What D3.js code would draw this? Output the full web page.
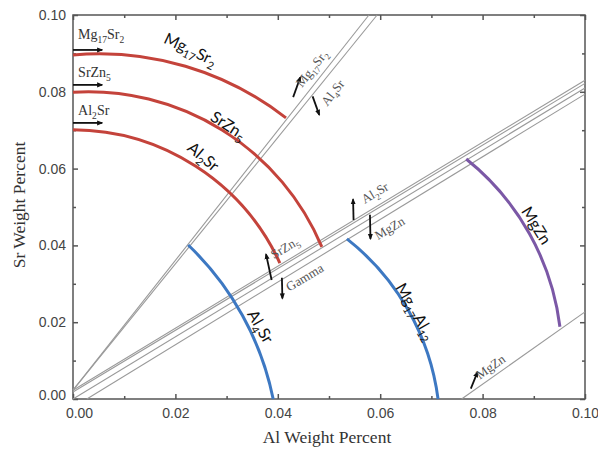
<!DOCTYPE html>
<meta charset="utf-8">
<style>
body { margin: 0; background: #fff; }
.bound line { stroke: #9a9a9a; stroke-width: 1.1px; }
.arc { fill: none; stroke-width: 3px; }
.axis path, .axis line { stroke: #555; stroke-width: 1.5px; }
.axis text { font-family: "Liberation Sans", Arial, sans-serif; font-size: 14px; fill: #444; }
.big { font-family: Lato, sans-serif; font-size: 16px; fill: #111; }
.small { font-family: "Liberation Serif", serif; font-size: 13px; fill: #555; }
.corner { font-family: "Liberation Serif", serif; font-size: 14px; fill: #333; }
.title { font-family: "Liberation Serif", serif; font-size: 17.5px; fill: #333; }
.arrow { stroke: #111; stroke-width: 1.8px; }
</style>
<svg width="598" height="451"></svg>
<script src="https://cdn.jsdelivr.net/npm/d3@7"></script>
<script>

// tick values (weight fraction)
var xMajor = [0, 0.02, 0.04, 0.06, 0.08, 0.10];
var xMinor = [0.01, 0.03, 0.05, 0.07, 0.09];
var yMajor = [0, 0.02, 0.04, 0.06, 0.08, 0.10];
var yMinor = [0.01, 0.03, 0.05, 0.07, 0.09];

// phase boundaries (gray lines), [[x1,y1],[x2,y2]]
var steepLines = [
    [[0, 0.0023], [0.0578, 0.1]],
    [[0, 0.0023], [0.0594, 0.1]]
];
var bundleLines = [
    [[0, 0.0023], [0.1, 0.0830]],
    [[0, 0.0018], [0.1, 0.0822]],
    [[0, 0], [0.1, 0.0810]],
    [[0.0027, 0], [0.1, 0.0794]]
];
var mgznLine = [[0.0759, 0], [0.1, 0.0227]];

// solubility arcs: start, a point on the way, end
var arcMg17Sr2 = [[0, 0.0896], [0.0332, 0.0805], [0.0416, 0.0732]];
var arcSrZn5 = [[0, 0.0799], [0.0346, 0.0648], [0.0486, 0.0396]];
var arcAl2Sr = [[0, 0.0701], [0.0320, 0.0518], [0.0404, 0.0354]];
var arcAl4Sr = [[0.0225, 0.0401], [0.0313, 0.0258], [0.0391, 0]];
var arcMg17Al12 = [[0.0535, 0.0417], [0.0639, 0.0266], [0.0713, 0]];
var arcMgZn = [[0.0768, 0.0625], [0.0893, 0.0427], [0.0951, 0.0188]];

// big labels on the arcs ("_" marks subscript)
var arcLabels = [
    {text: "Mg_17Sr_2", at: [0.0229, 0.0909], angle: 25},
    {text: "SrZn_5", at: [0.0303, 0.0711], angle: 33},
    {text: "Al_2Sr", at: [0.0254, 0.0630], angle: 40},
    {text: "Al_4Sr", at: [0.0365, 0.0188], angle: 60},
    {text: "Mg_17Al_12", at: [0.0668, 0.0227], angle: 60},
    {text: "MgZn", at: [0.0904, 0.0451], angle: 58}
];

// phase names on the gray boundaries, with their arrows
var boundLabels = [
    {text: "Mg_17Sr_2", at: [0.0467, 0.0860], angle: -52, tail: [0.0430, 0.0786], head: [0.0444, 0.0838]},
    {text: "Al_4Sr", at: [0.0508, 0.0797], angle: -52, tail: [0.0468, 0.0788], head: [0.0481, 0.0740]},
    {text: "Al_2Sr", at: [0.0590, 0.0536], angle: -31, tail: [0.0548, 0.0466], head: [0.0547, 0.0520]},
    {text: "MgZn", at: [0.0619, 0.0444], angle: -31, tail: [0.0580, 0.0480], head: [0.0581, 0.0417]},
    {text: "SrZn_5", at: [0.0414, 0.0393], angle: -31, tail: [0.0388, 0.0310], head: [0.0377, 0.0377]},
    {text: "Gamma", at: [0.0453, 0.0316], angle: -31, tail: [0.0408, 0.0316], head: [0.0409, 0.0262]},
    {text: "MgZn", at: [0.0816, 0.0083], angle: -35, tail: [0.0777, 0.0027], head: [0.0790, 0.0070]}
];

// solubility limits marked on the Sr axis
var cornerLabels = [
    {text: "Mg_17Sr_2", y: 0.0938, arrowY: 0.0909},
    {text: "SrZn_5", y: 0.0839, arrowY: 0.0818},
    {text: "Al_2Sr", y: 0.0740, arrowY: 0.0719}
];

var svg = d3.select("svg");
var x = d3.scaleLinear().domain([0, 0.1]).range([73, 585]);
var y = d3.scaleLinear().domain([0, 0.1]).range([399, 15]);

svg.append("defs").append("marker")
    .attr("id", "arr")
    .attr("viewBox", "0 0 10 10")
    .attr("refX", 8).attr("refY", 5)
    .attr("markerWidth", 3.5).attr("markerHeight", 3.5)
    .attr("orient", "auto")
    .append("path").attr("d", "M0,1L10,5L0,9z").attr("fill", "#111");

// writes "Mg_17Sr_2" style text into a text element
function richText(t, str, size) {
    var parts = str.split(/(_\d+)/).filter(function(s) { return s.length; });
    var down = false;
    parts.forEach(function(p) {
        var sp = t.append("tspan");
        if (p[0] == "_") {
            sp.text(p.slice(1)).attr("font-size", size * 0.68).attr("dy", size * 0.28);
            down = true;
        } else {
            sp.text(p);
            if (down) { sp.attr("dy", -size * 0.28); down = false; }
        }
    });
}

// circle through start / middle / end, in screen space
function arcPath(pts) {
    var p = pts.map(function(d) { return [x(d[0]), y(d[1])]; });
    var ax = p[0][0], ay = p[0][1], bx = p[1][0], by = p[1][1], cx = p[2][0], cy = p[2][1];
    var dd = 2 * (ax * (by - cy) + bx * (cy - ay) + cx * (ay - by));
    var ux = ((ax*ax + ay*ay) * (by - cy) + (bx*bx + by*by) * (cy - ay) + (cx*cx + cy*cy) * (ay - by)) / dd;
    var uy = ((ax*ax + ay*ay) * (cx - bx) + (bx*bx + by*by) * (ax - cx) + (cx*cx + cy*cy) * (bx - ax)) / dd;
    var r = Math.hypot(ax - ux, ay - uy);
    var cross = (bx - ax) * (cy - by) - (by - ay) * (cx - bx);
    var path = d3.path();
    path.moveTo(ax, ay);
    path.arc(ux, uy, r, Math.atan2(ay - uy, ax - ux), Math.atan2(cy - uy, cx - ux), !(cross > 0));
    return path.toString();
}

// axes
function drawAxis(gen, tr) {
    return svg.append("g").attr("class", "axis").attr("transform", tr).call(gen);
}
var fmt = d3.format(".2f");
drawAxis(d3.axisBottom(x).tickValues(xMinor).tickSize(-3).tickFormat(""), "translate(0,399)");
var xb = drawAxis(d3.axisBottom(x).tickValues(xMajor).tickSize(-5).tickPadding(9).tickFormat(fmt), "translate(0,399)");
drawAxis(d3.axisTop(x).tickValues(xMinor).tickSize(-3).tickFormat(""), "translate(0,15)");
drawAxis(d3.axisTop(x).tickValues(xMajor).tickSize(-5).tickFormat(""), "translate(0,15)");
drawAxis(d3.axisLeft(y).tickValues(yMinor).tickSize(-3).tickFormat(""), "translate(73,0)");
var yl = drawAxis(d3.axisLeft(y).tickValues(yMajor).tickSize(-5).tickPadding(7).tickFormat(fmt), "translate(73,0)");
drawAxis(d3.axisRight(y).tickValues(yMinor).tickSize(-3).tickFormat(""), "translate(585,0)");
drawAxis(d3.axisRight(y).tickValues(yMajor).tickSize(-5).tickFormat(""), "translate(585,0)");
svg.selectAll(".axis .domain").remove();

// nudge the two 0.00 labels apart like the original
xb.selectAll(".tick text").filter(function(d) { return d == 0; }).attr("dx", 6);
yl.selectAll(".tick text").filter(function(d) { return d == 0; }).attr("dy", "0.05em");

svg.append("rect")
    .attr("x", x(0)).attr("y", y(0.1))
    .attr("width", x(0.1) - x(0)).attr("height", y(0) - y(0.1))
    .attr("fill", "none").attr("stroke", "#555").attr("stroke-width", 1.5);

// gray boundaries
var bounds = svg.append("g").attr("class", "bound");
bounds.selectAll("line")
    .data(steepLines.concat(bundleLines, [mgznLine]))
    .enter().append("line")
    .attr("x1", function(d) { return x(d[0][0]); })
    .attr("y1", function(d) { return y(d[0][1]); })
    .attr("x2", function(d) { return x(d[1][0]); })
    .attr("y2", function(d) { return y(d[1][1]); });

// arcs
var arcs = [
    {pts: arcMg17Sr2, color: "#c4433b"},
    {pts: arcSrZn5, color: "#c4433b"},
    {pts: arcAl2Sr, color: "#c4433b"},
    {pts: arcAl4Sr, color: "#3d78c2"},
    {pts: arcMg17Al12, color: "#3d78c2"},
    {pts: arcMgZn, color: "#7b58a6"}
];
svg.selectAll(".arc")
    .data(arcs)
    .enter().append("path")
    .attr("class", "arc")
    .attr("stroke", function(d) { return d.color; })
    .attr("d", function(d) { return arcPath(d.pts); });

// arc labels
arcLabels.forEach(function(d) {
    var t = svg.append("text")
        .attr("class", "big")
        .attr("text-anchor", "middle")
        .attr("transform", "translate(" + x(d.at[0]) + "," + y(d.at[1]) + ") rotate(" + d.angle + ")")
        .attr("y", 5);
    richText(t, d.text, 16);
});

// boundary labels + arrows
boundLabels.forEach(function(d) {
    svg.append("line")
        .attr("class", "arrow")
        .attr("x1", x(d.tail[0])).attr("y1", y(d.tail[1]))
        .attr("x2", x(d.head[0])).attr("y2", y(d.head[1]))
        .attr("marker-end", "url(#arr)");
    var t = svg.append("text")
        .attr("class", "small")
        .attr("text-anchor", "middle")
        .attr("transform", "translate(" + x(d.at[0]) + "," + y(d.at[1]) + ") rotate(" + d.angle + ")")
        .attr("y", 4);
    richText(t, d.text, 13);
});

// labels at the Sr axis
cornerLabels.forEach(function(d) {
    svg.append("line")
        .attr("class", "arrow")
        .attr("x1", x(0)).attr("y1", y(d.arrowY))
        .attr("x2", x(0.0057)).attr("y2", y(d.arrowY))
        .attr("marker-end", "url(#arr)");
    var t = svg.append("text")
        .attr("class", "corner")
        .attr("x", x(0.001)).attr("y", y(d.y));
    richText(t, d.text, 14);
});

// axis titles
svg.append("text")
    .attr("class", "title")
    .attr("text-anchor", "middle")
    .attr("x", 327).attr("y", 443)
    .text("Al Weight Percent");
svg.append("text")
    .attr("class", "title")
    .attr("text-anchor", "middle")
    .attr("transform", "translate(25,205) rotate(-90)")
    .text("Sr Weight Percent");

</script>
